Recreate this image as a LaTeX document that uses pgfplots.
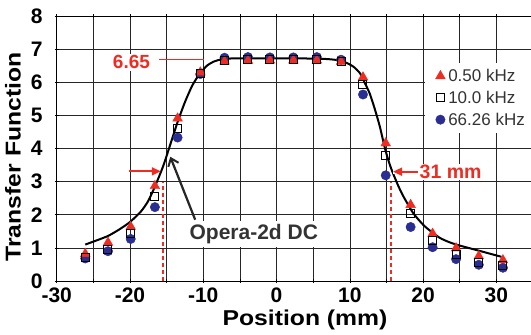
\documentclass[border=0pt]{standalone}
\usepackage{pgfplots}
\pgfplotsset{compat=1.18}
\usepackage{fontspec}
\setmainfont{Liberation Sans}
\usetikzlibrary{arrows.meta}
\definecolor{myred}{RGB}{238,44,34}
\definecolor{myblue}{RGB}{42,45,145}
\definecolor{txtgray}{RGB}{51,51,51}

\pgfplotstableread{
x     lo    mid   hi
-26.1 0.82  0.70  0.68
-23.0 1.16  0.96  0.90
-19.9 1.64  1.44  1.27
-16.6 2.87  2.55  2.23
-13.5 4.91  4.61  4.33
-10.4 6.30  6.27  6.25
-7.1  6.63  6.66  6.74
-3.9  6.65  6.68  6.76
-0.9  6.66  6.69  6.75
2.3   6.66  6.69  6.75
5.5   6.66  6.69  6.76
8.8   6.62  6.64  6.68
11.8  6.15  5.93  5.63
14.9  4.16  3.80  3.19
18.3  2.30  2.04  1.63
21.3  1.43  1.23  1.02
24.5  0.99  0.81  0.66
27.6  0.75  0.56  0.49
30.9  0.63  0.47  0.40
}\datatable

\pgfplotstableread{
x     y
-26.1 1.10
-24.5 1.23
-23.0 1.36
-21.5 1.55
-20.0 1.78
-18.5 2.10
-17.5 2.42
-16.6 2.85
-15.5 3.45
-14.5 4.12
-13.5 4.80
-12.5 5.40
-11.5 5.90
-10.5 6.25
-9.5  6.50
-8.5  6.63
-7.5  6.69
-6.0  6.72
-3.0  6.72
0.0   6.72
3.0   6.72
6.0   6.71
7.5   6.69
8.5   6.66
9.5   6.59
10.5  6.47
11.4  6.27
12.0  6.00
12.7  5.67
13.4  5.20
14.1  4.66
14.8  4.00
15.4  3.55
15.9  3.25
16.6  2.88
17.3  2.56
18.65 2.05
20.0  1.70
21.0  1.51
22.3  1.30
23.6  1.17
25.0  1.07
27.7  0.91
30.7  0.73
}\curvetable

\begin{document}
\begin{tikzpicture}
\begin{axis}[
  at={(0pt,0pt)}, anchor=south west,
  scale only axis, width=476.3pt, height=265pt,
  xmin=-30, xmax=35, ymin=0, ymax=8,
  xtick={-30,-20,...,30}, minor xtick={-25,-15,...,35},
  ytick={0,1,...,8},
  grid=both,
  major grid style={black!85, line width=0.6pt},
  minor grid style={black!85, line width=0.6pt},
  axis line style={black, line width=0.7pt},
  tick align=center, major tick length=4pt, minor tick length=4pt,
  tick style={black, line width=0.6pt},
  /pgf/number format/assume math mode=true,
  tick label style={font=\bfseries\fontsize{21}{21}\selectfont, text=black},
  xticklabel style={yshift=-3pt, inner sep=2pt},
  yticklabel style={xshift=-11pt, inner sep=1pt},
  legend style={at={(0.773,0.823)}, anchor=north west, draw=none, fill=white,
    font=\fontsize{17}{17}\selectfont, text=txtgray,
    inner xsep=10.5pt, inner ysep=4pt, row sep=4pt,
    /tikz/every odd column/.style={column sep=1pt}},
  legend cell align=left,
  legend image code/.code={\draw[#1] plot coordinates {(0pt,0pt)};},
  clip=false,
]
% markers
\addplot[only marks, mark=*, mark size=4.7pt, myblue, forget plot] table[x=x, y=hi] {\datatable};
\addplot[only marks, mark=triangle*, mark size=5.6pt, myred, forget plot] table[x=x, y=lo] {\datatable};
\addplot[only marks, mark=square, mark size=4pt, black, mark options={line width=1pt}, forget plot] table[x=x, y=mid] {\datatable};
% curve
\addplot[black, line width=2pt, smooth, tension=0.4, no marks, forget plot] table[x=x, y=y] {\curvetable};
% dashed lines
\addplot[myred, line width=1.6pt, dash pattern=on 4pt off 3pt, forget plot] coordinates {(-15.5,0) (-15.5,3.0)};
\addplot[myred, line width=1.6pt, dash pattern=on 4pt off 3pt, forget plot] coordinates {(15.6,0) (15.6,3.0)};

\addlegendimage{only marks, mark=triangle*, mark size=5.6pt, myred}
\addlegendentry{0.50 kHz}
\addlegendimage{only marks, mark=square, mark size=4pt, black, mark options={line width=1pt, fill=white}}
\addlegendentry{10.0 kHz}
\addlegendimage{only marks, mark=*, mark size=4.7pt, myblue}
\addlegendentry{66.26 kHz}

% annotations
\draw[myred, line width=0.8pt] (axis cs:-16.0,6.68) -- (axis cs:-9.9,6.68);
\node[fill=white, inner sep=1.5pt, text=myred, font=\bfseries\fontsize{19}{19}\selectfont] at (axis cs:-19.8,6.60) {6.65};
\draw[myred, line width=1.8pt, -{Triangle[length=9pt,width=8pt]}] (axis cs:-20.2,3.31) -- (axis cs:-15.8,3.31);
\draw[myred, line width=1.8pt, -{Triangle[length=9pt,width=8pt]}, preaction={draw=white, line width=5pt, -}] (axis cs:19.4,3.30) -- (axis cs:15.9,3.30);
\node[fill=white, inner sep=1.5pt, text=myred, font=\bfseries\fontsize{19.5}{19.5}\selectfont] at (axis cs:23.75,3.29) {31 mm};
\node[fill=white, inner sep=3pt, text=txtgray, font=\bfseries\fontsize{21}{21}\selectfont] at (axis cs:-3.1,1.42) {Opera-2d DC};
\draw[black!85, line width=2.2pt, -{Straight Barb[length=7pt,width=11pt,line width=2pt]}] (axis cs:-11.1,1.85) -- (axis cs:-14.5,3.75);
\end{axis}
\node[rotate=90, xscale=1.15, anchor=base, font=\bfseries\fontsize{21.5}{21.5}\selectfont] at (-36pt,124pt) {Transfer Function};
\node[xscale=1.15, anchor=base, inner sep=1pt, font=\bfseries\fontsize{21.5}{21.5}\selectfont] at (248.3pt,-44.5pt) {Position (mm)};
\pgfresetboundingbox
\path[use as bounding box] (-56.7pt,-54pt) rectangle (474.3pt,281pt);
\end{tikzpicture}
\end{document}
